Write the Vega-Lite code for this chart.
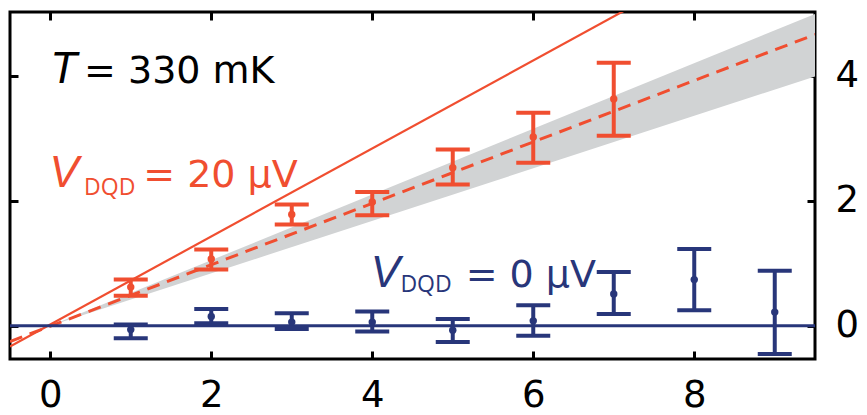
{
  "$schema": "https://vega.github.io/schema/vega-lite/v6.json",
  "width": 805,
  "height": 347,
  "autosize": "none",
  "padding": {"left": 10, "top": 12, "right": 52, "bottom": 56},
  "background": "white",
  "config": {
    "view": {"stroke": "black", "strokeWidth": 3},
    "axis": {
      "domain": false,
      "grid": false,
      "tickColor": "black",
      "tickWidth": 3,
      "tickSize": -8,
      "labelFont": "DejaVu Sans",
      "labelFontSize": 37,
      "labelColor": "black",
      "title": null
    }
  },
  "datasets": {
    "points": [
      {"series": "V20", "x": 1, "y": 0.62, "lo": 0.48, "hi": 0.74},
      {"series": "V20", "x": 2, "y": 1.07, "lo": 0.9, "hi": 1.22},
      {"series": "V20", "x": 3, "y": 1.78, "lo": 1.62, "hi": 1.94},
      {"series": "V20", "x": 4, "y": 1.98, "lo": 1.77, "hi": 2.14},
      {"series": "V20", "x": 5, "y": 2.53, "lo": 2.26, "hi": 2.82},
      {"series": "V20", "x": 6, "y": 3.02, "lo": 2.61, "hi": 3.41},
      {"series": "V20", "x": 7, "y": 3.63, "lo": 3.04, "hi": 4.21},
      {"series": "V0", "x": 1, "y": -0.06, "lo": -0.2, "hi": 0.02},
      {"series": "V0", "x": 2, "y": 0.15, "lo": 0.04, "hi": 0.27},
      {"series": "V0", "x": 3, "y": 0.06, "lo": -0.05, "hi": 0.2},
      {"series": "V0", "x": 4, "y": 0.06, "lo": -0.09, "hi": 0.23},
      {"series": "V0", "x": 5, "y": -0.07, "lo": -0.26, "hi": 0.11},
      {"series": "V0", "x": 6, "y": 0.08, "lo": -0.16, "hi": 0.33},
      {"series": "V0", "x": 7, "y": 0.51, "lo": 0.19, "hi": 0.86},
      {"series": "V0", "x": 8, "y": 0.74, "lo": 0.25, "hi": 1.23},
      {"series": "V0", "x": 9, "y": 0.22, "lo": -0.45, "hi": 0.88}
    ],
    "band": [
      {"x": 0, "lo": 0, "hi": 0},
      {"x": 9.5, "lo": 3.99, "hi": 4.99}
    ],
    "solid": [
      {"x": -0.5, "y": -0.33},
      {"x": 7.2, "y": 5.09}
    ],
    "dashed": [
      {"x": -0.5, "y": -0.25},
      {"x": 9.5, "y": 4.66}
    ],
    "zero": [
      {"x": -0.5, "y": 0},
      {"x": 9.5, "y": 0}
    ],
    "italic": [
      {"series": "T", "x": 0.0, "y": 3.888, "text": "T"},
      {"series": "V20", "x": -0.01, "y": 2.224, "text": "V"},
      {"series": "V0", "x": 3.98, "y": 0.624, "text": "V"}
    ],
    "regular": [
      {"series": "T", "x": 0.42, "y": 3.888, "text": "= 330 mK"},
      {"series": "V20", "x": 1.155, "y": 2.224, "text": "= 20 μV"},
      {"series": "V0", "x": 5.16, "y": 0.624, "text": "= 0 μV"}
    ],
    "sub": [
      {"series": "V20", "x": 0.42, "y": 2.096, "text": "DQD"},
      {"series": "V0", "x": 4.35, "y": 0.544, "text": "DQD"}
    ]
  },
  "layer": [
    {
      "data": {"name": "band"},
      "mark": {"type": "area", "color": "#d1d3d4", "opacity": 1, "clip": true},
      "encoding": {
        "x": {"field": "x", "type": "quantitative", "scale": {"domain": [-0.5, 9.5], "nice": false, "zero": false}, "axis": null},
        "y": {"field": "lo", "type": "quantitative", "scale": {"domain": [-0.53, 5.02], "nice": false, "zero": false}, "axis": null},
        "y2": {"field": "hi"}
      }
    },
    {
      "data": {"name": "solid"},
      "mark": {"type": "line", "color": "#f04e30", "strokeWidth": 2.2, "clip": true},
      "encoding": {
        "x": {"field": "x", "type": "quantitative", "axis": null},
        "y": {"field": "y", "type": "quantitative", "axis": null}
      }
    },
    {
      "data": {"name": "dashed"},
      "mark": {"type": "line", "color": "#f04e30", "strokeWidth": 3, "strokeDash": [13, 8], "clip": true},
      "encoding": {
        "x": {"field": "x", "type": "quantitative", "axis": null},
        "y": {"field": "y", "type": "quantitative", "axis": null}
      }
    },
    {
      "data": {"name": "zero"},
      "mark": {"type": "line", "color": "#28367a", "strokeWidth": 3, "clip": true},
      "encoding": {
        "x": {"field": "x", "type": "quantitative", "axis": {"orient": "top", "values": [0, 2, 4, 6, 8], "labels": false}},
        "y": {"field": "y", "type": "quantitative", "axis": {"orient": "left", "values": [0, 2, 4], "labels": false}}
      }
    },
    {
      "data": {"name": "points"},
      "mark": {"type": "rule", "strokeWidth": 4, "opacity": 1},
      "encoding": {
        "x": {"field": "x", "type": "quantitative", "axis": {"orient": "bottom", "values": [0, 2, 4, 6, 8], "labelPadding": 26}},
        "y": {"field": "lo", "type": "quantitative", "axis": {"orient": "right", "values": [0, 2, 4], "labelPadding": 28, "labelAlign": "left"}},
        "y2": {"field": "hi"},
        "color": {"field": "series", "type": "nominal", "scale": {"domain": ["V20", "V0", "T"], "range": ["#f04e30", "#28367a", "#000000"]}, "legend": null}
      }
    },
    {
      "data": {"name": "points"},
      "mark": {"type": "tick", "orient": "horizontal", "size": 34, "thickness": 4, "opacity": 1},
      "encoding": {
        "x": {"field": "x", "type": "quantitative", "axis": null},
        "y": {"field": "lo", "type": "quantitative", "axis": null},
        "color": {"field": "series", "type": "nominal", "legend": null}
      }
    },
    {
      "data": {"name": "points"},
      "mark": {"type": "tick", "orient": "horizontal", "size": 34, "thickness": 4, "opacity": 1},
      "encoding": {
        "x": {"field": "x", "type": "quantitative", "axis": null},
        "y": {"field": "hi", "type": "quantitative", "axis": null},
        "color": {"field": "series", "type": "nominal", "legend": null}
      }
    },
    {
      "data": {"name": "points"},
      "mark": {"type": "point", "filled": true, "size": 55, "opacity": 1},
      "encoding": {
        "x": {"field": "x", "type": "quantitative", "axis": null},
        "y": {"field": "y", "type": "quantitative", "axis": null},
        "color": {"field": "series", "type": "nominal", "legend": null}
      }
    },
    {
      "data": {"name": "italic"},
      "mark": {"type": "text", "font": "Liberation Sans", "fontSize": 44, "fontStyle": "italic", "align": "left", "baseline": "alphabetic"},
      "encoding": {
        "x": {"field": "x", "type": "quantitative", "axis": null},
        "y": {"field": "y", "type": "quantitative", "axis": null},
        "text": {"field": "text"},
        "color": {"field": "series", "type": "nominal", "legend": null}
      }
    },
    {
      "data": {"name": "regular"},
      "mark": {"type": "text", "font": "DejaVu Sans", "fontSize": 38, "align": "left", "baseline": "alphabetic"},
      "encoding": {
        "x": {"field": "x", "type": "quantitative", "axis": null},
        "y": {"field": "y", "type": "quantitative", "axis": null},
        "text": {"field": "text"},
        "color": {"field": "series", "type": "nominal", "legend": null}
      }
    },
    {
      "data": {"name": "sub"},
      "mark": {"type": "text", "font": "Open Sans", "fontSize": 23, "align": "left", "baseline": "alphabetic"},
      "encoding": {
        "x": {"field": "x", "type": "quantitative", "axis": null},
        "y": {"field": "y", "type": "quantitative", "axis": null},
        "text": {"field": "text"},
        "color": {"field": "series", "type": "nominal", "legend": null}
      }
    }
  ],
  "resolve": {"axis": {"x": "independent", "y": "independent"}}
}
